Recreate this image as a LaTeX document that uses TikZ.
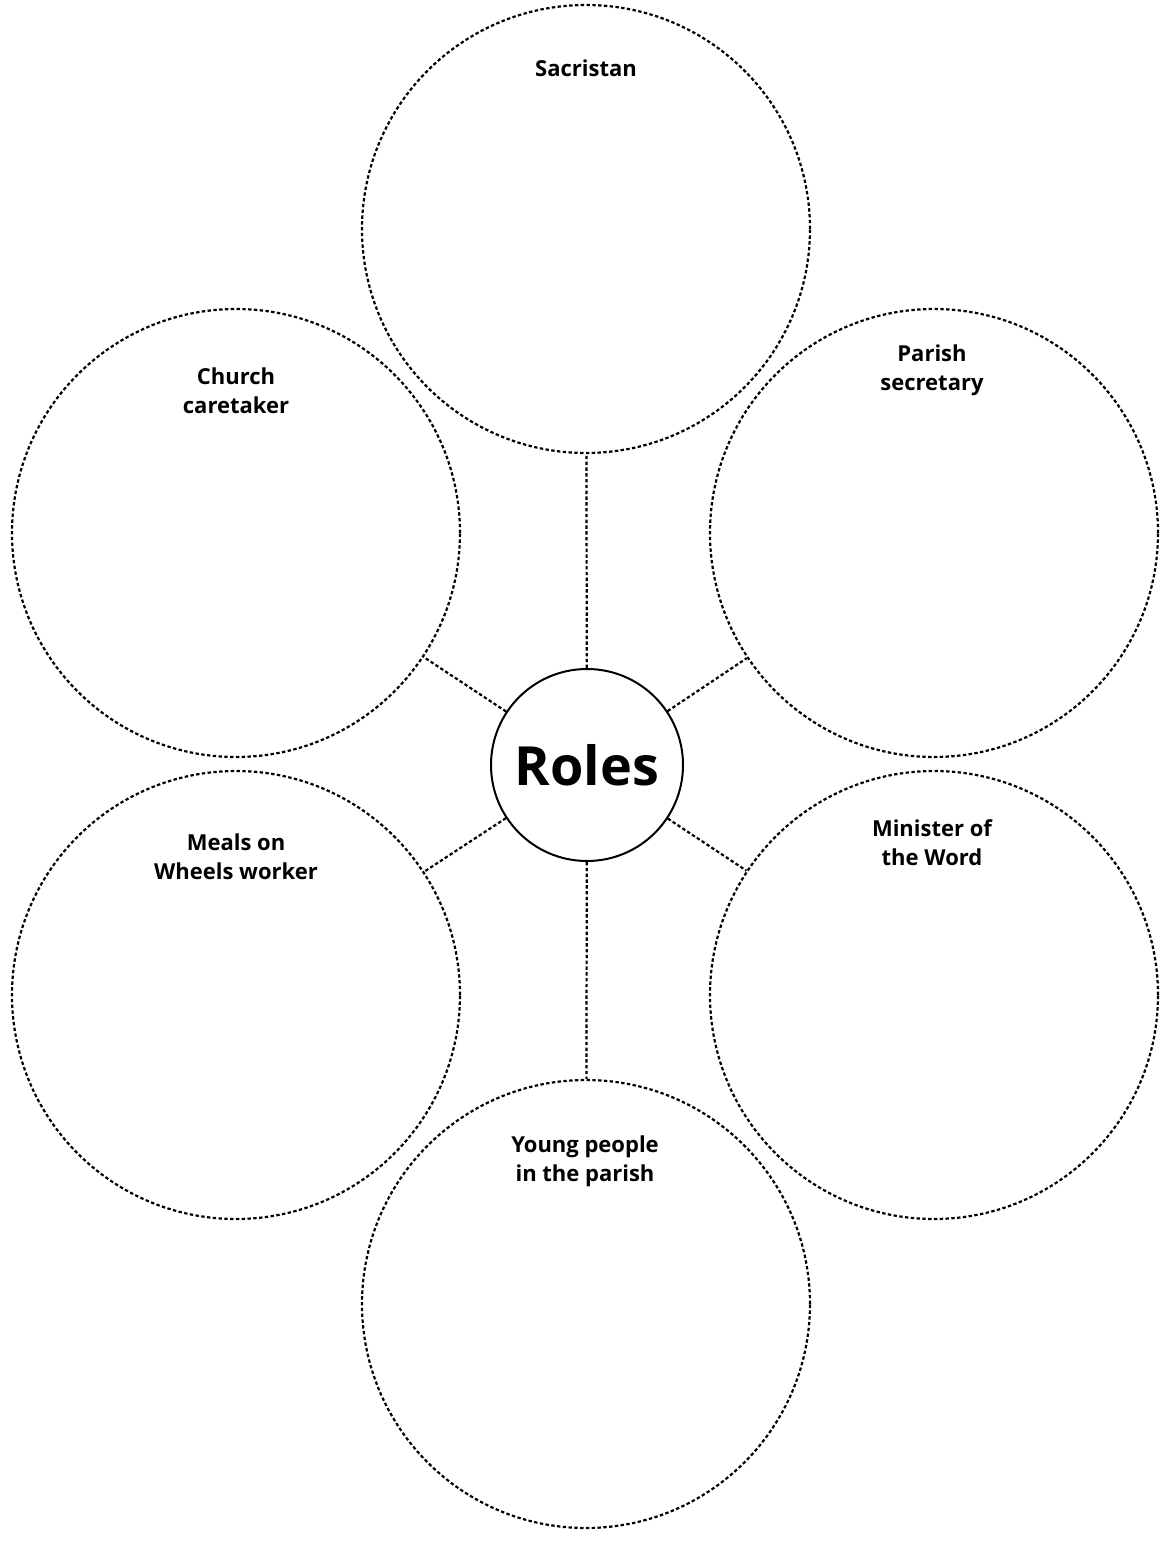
\documentclass[tikz,border=0pt]{standalone}
\usepackage{fontspec}
\setmainfont{Open Sans}
\begin{document}
\begin{tikzpicture}[x=0.5pt,y=0.5pt,yscale=-1,xscale=1,
  role/.style={draw, circle, dash pattern=on 1.7pt off 1.2pt, line width=1.1pt, minimum size=224pt, inner sep=0pt},
  hub/.style={draw, circle, line width=1pt, minimum size=96pt, inner sep=0pt, font=\bfseries\fontsize{27}{32}\selectfont},
  rolename/.style={align=center, font=\bfseries\fontsize{11}{14.5}\selectfont},
  link/.style={dash pattern=on 1.7pt off 1.2pt, line width=1.1pt}]
\useasboundingbox (0,0) rectangle (1160,1551);

% Circles
\node [hub] (roles) at (587,765) {Roles};
\node [role] (sacristan) at (586,229) {};
\node [role] (caretaker) at (236,533) {};
\node [role] (secretary) at (934,533) {};
\node [role] (meals) at (236,995) {};
\node [role] (minister) at (934,995) {};
\node [role] (young) at (586,1304) {};

% Text Node
\node [rolename] (sacristan-text) at (586,68) {Sacristan};
\node [rolename] (caretaker-text) at (236,391) {Church\\caretaker};
\node [rolename] (secretary-text) at (932,370) {Parish\\secretary};
\node [rolename] (meals-text) at (236,857) {Meals on\\Wheels worker};
\node [rolename] (minister-text) at (932,843) {Minister of\\the Word};
\node [rolename] (young-text) at (585,1161) {Young people\\in the parish};

% Links
\draw [link] (roles) -- (sacristan);
\draw [link] (roles) -- (caretaker);
\draw [link] (roles) -- (secretary);
\draw [link] (roles) -- (meals);
\draw [link] (roles) -- (minister);
\draw [link] (roles) -- (young);

\end{tikzpicture}
\end{document}
